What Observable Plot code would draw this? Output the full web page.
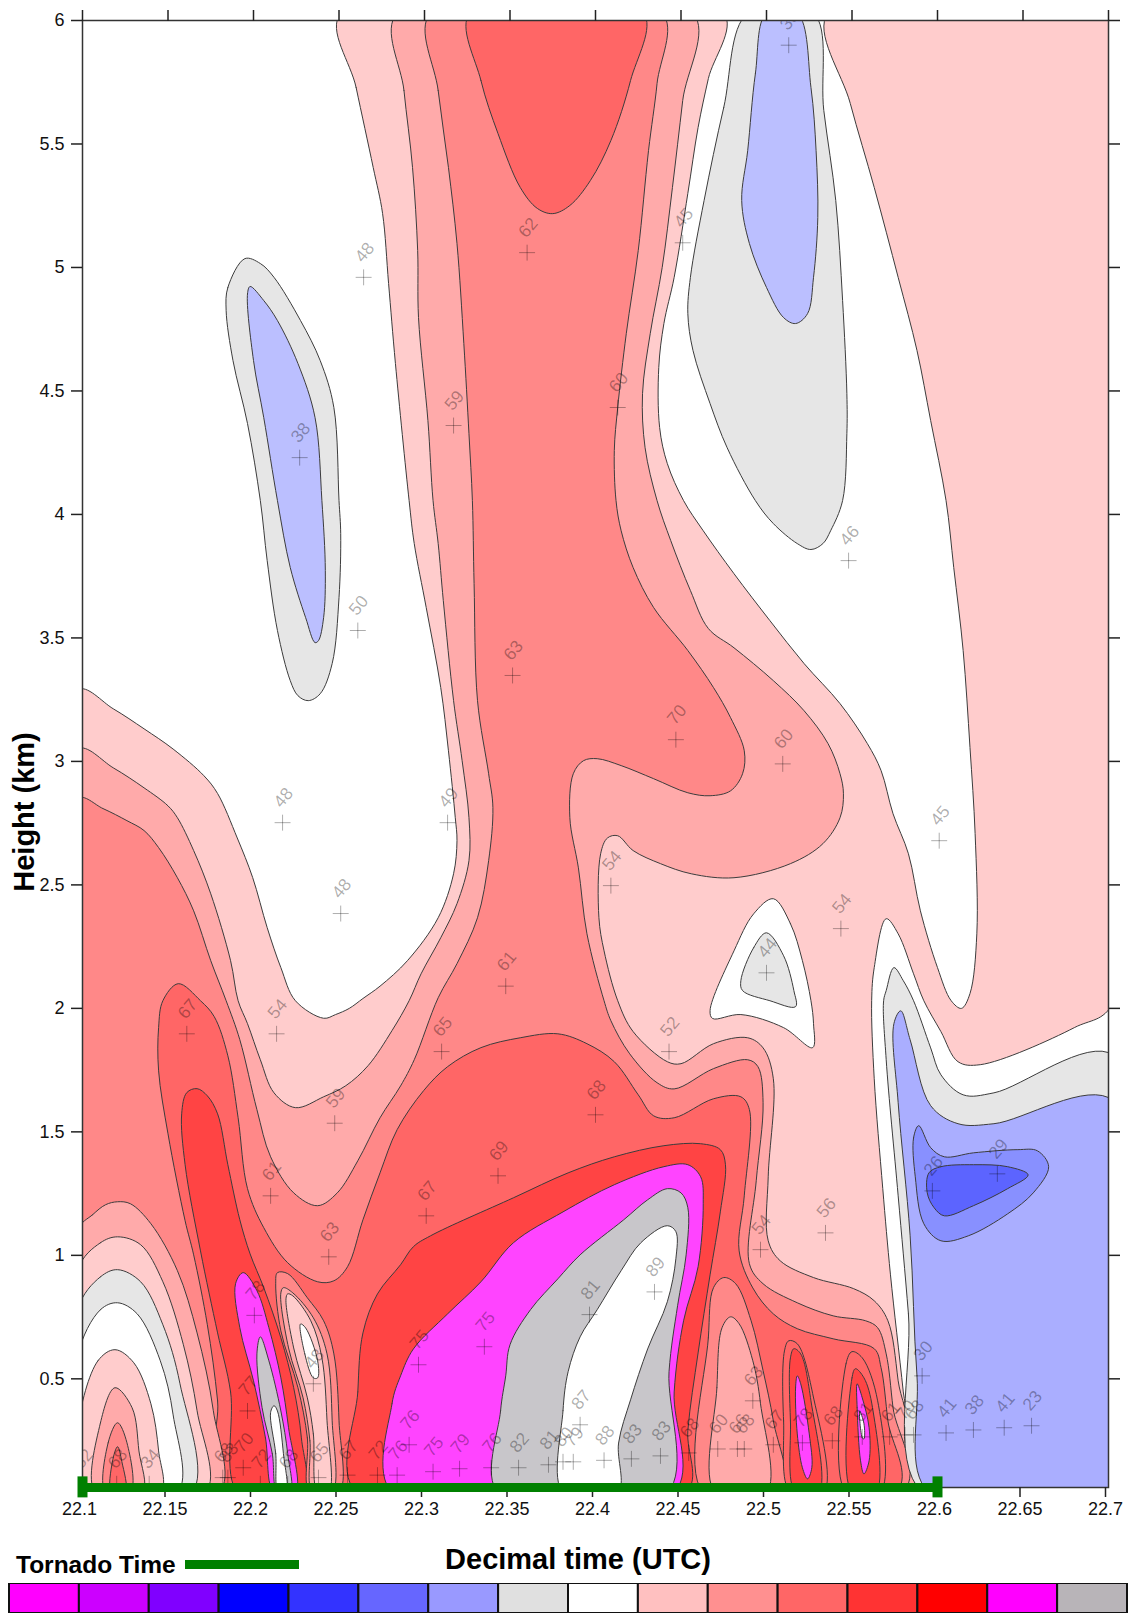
<!DOCTYPE html>
<html><head><meta charset="utf-8">
<script src="https://cdn.jsdelivr.net/npm/d3@7"></script>
<script src="https://cdn.jsdelivr.net/npm/@observablehq/plot@0.6"></script>
<style>
html,body{margin:0;padding:0;background:#fff;width:1132px;height:1613px;overflow:hidden}
#wrap{position:relative;width:1132px;height:1613px;font-family:"Liberation Sans",Arial,sans-serif}
.t{position:absolute;font-weight:bold;color:#000;white-space:nowrap;line-height:1}
#xtitle{left:578px;top:1545px;transform:translateX(-50%);font-size:29px}
#tornado{left:16px;top:1553px;font-size:24.5px}
#swatch{position:absolute;left:185px;top:1560px;width:114px;height:9px;background:#008000}
#bar{position:absolute;left:0;top:1583px}
svg{display:block}
</style></head><body><div id="wrap">
<div id="main"></div>
<div class="t" id="xtitle">Decimal time (UTC)</div>
<div class="t" id="tornado">Tornado Time</div><div id="swatch"></div>
<div id="bar"></div>
</div>
<script>
// Tick values
const timeTicks = [22.1,22.15,22.2,22.25,22.3,22.35,22.4,22.45,22.5,22.55,22.6,22.65,22.7];
const heightTicks = [0.5,1,1.5,2,2.5,3,3.5,4,4.5,5,5.5,6];
const tornadoTime = [22.1,22.6];

// Contour fills
const pink1="#FFCCCC",pink2="#FFAAAA",pink3="#FF8888",red1="#FF6666",red2="#FF4444",magenta="#FF44FF",
      grey="#C8C6CA",white="#FFFFFF",lightGrey="#E6E6E6",lavender="#BBBFFF",blue1="#AAAEFF",blue2="#8890FF",blue3="#5C64FF";

// Colour bar
const barColors = ["#FF00FF","#CC00FF","#8000FF","#0000FF","#3333FF","#6666FF","#9999FF","#E0E0E0","#FFFFFF","#FFC0C0","#FF9090","#FF6666","#FF3333","#FF0000","#FF00FF","#B8B4B8"];

// Contour rings, [decimal time, height km]
const ringPink1 = [[22.251,6.03],[22.26,5.729],[22.27,5.405],[22.2755,5.218],[22.279,4.935],[22.283,4.611],[22.291,4.056],[22.294,3.882],[22.301,3.623],[22.3095,3.299],[22.314,3.043],[22.318,2.772],[22.319,2.679],[22.317,2.545],[22.308,2.367],[22.29,2.193],[22.274,2.09],[22.264,2.04],[22.256,2.0],[22.248,1.975],[22.241,1.96],[22.2245,2.031],[22.216,2.165],[22.208,2.327],[22.1995,2.53],[22.1905,2.69],[22.179,2.87],[22.171,2.942],[22.153,3.05],[22.136,3.132],[22.118,3.213],[22.097,3.29],[22.097,0.04],[22.586,0.04],[22.58,0.447],[22.5725,0.921],[22.568,1.27],[22.563,1.715],[22.5615,2.031],[22.563,2.165],[22.57,2.363],[22.577,2.302],[22.586,2.14],[22.592,2.031],[22.602,1.906],[22.612,1.784],[22.625,1.772],[22.68,1.922],[22.703,2.025],[22.703,6.03],[22.536,6.03],[22.549,5.664],[22.563,5.324],[22.577,4.96],[22.588,4.664],[22.596,4.38],[22.605,4.056],[22.6095,3.785],[22.615,3.449],[22.619,3.056],[22.622,2.708],[22.623,2.302],[22.619,2.06],[22.614,2.0],[22.608,2.031],[22.6,2.165],[22.59,2.395],[22.583,2.626],[22.574,2.788],[22.567,2.963],[22.559,3.072],[22.543,3.234],[22.522,3.396],[22.502,3.57],[22.481,3.76],[22.463,3.934],[22.4515,4.056],[22.442,4.206],[22.4375,4.352],[22.437,4.595],[22.44,4.773],[22.446,4.96],[22.454,5.3],[22.46,5.567],[22.466,5.765],[22.475,6.03]];
const ringPink2 = [[22.284,6.03],[22.288,5.716],[22.293,5.405],[22.296,5.069],[22.2965,4.797],[22.302,4.38],[22.305,4.056],[22.308,3.882],[22.311,3.651],[22.317,3.246],[22.322,3.003],[22.326,2.772],[22.326,2.598],[22.319,2.424],[22.3095,2.286],[22.298,2.14],[22.291,2.031],[22.281,1.91],[22.267,1.768],[22.254,1.687],[22.241,1.642],[22.2245,1.598],[22.212,1.658],[22.204,1.792],[22.1965,1.938],[22.191,2.031],[22.1866,2.193],[22.175,2.464],[22.165,2.639],[22.1555,2.772],[22.15,2.82],[22.136,2.893],[22.118,2.974],[22.097,3.05],[22.097,0.04],[22.583,0.04],[22.577,0.492],[22.571,0.735],[22.563,0.816],[22.551,0.865],[22.5275,0.91],[22.508,0.978],[22.501,1.059],[22.501,1.318],[22.504,1.715],[22.498,1.84],[22.489,1.881],[22.469,1.857],[22.45,1.776],[22.442,1.784],[22.422,1.906],[22.413,2.031],[22.405,2.233],[22.402,2.367],[22.403,2.626],[22.407,2.69],[22.413,2.699],[22.422,2.639],[22.438,2.586],[22.456,2.545],[22.481,2.529],[22.514,2.586],[22.533,2.667],[22.543,2.772],[22.545,2.869],[22.543,2.95],[22.536,3.072],[22.522,3.205],[22.504,3.327],[22.481,3.46],[22.466,3.538],[22.4555,3.692],[22.444,3.894],[22.436,4.056],[22.429,4.27],[22.4275,4.489],[22.432,4.732],[22.439,5.0],[22.445,5.324],[22.451,5.676],[22.457,6.03]];
const ringPink3 = [[22.3035,6.03],[22.308,5.716],[22.314,5.405],[22.319,5.097],[22.323,4.692],[22.326,4.327],[22.328,4.056],[22.329,3.72],[22.331,3.246],[22.3375,2.95],[22.34,2.813],[22.3375,2.598],[22.331,2.367],[22.319,2.181],[22.308,2.043],[22.294,1.792],[22.286,1.686],[22.274,1.557],[22.261,1.383],[22.249,1.253],[22.2375,1.201],[22.2235,1.253],[22.21,1.399],[22.202,1.59],[22.192,1.873],[22.184,2.031],[22.175,2.193],[22.165,2.395],[22.1555,2.529],[22.1445,2.651],[22.136,2.72],[22.126,2.76],[22.112,2.809],[22.097,2.85],[22.097,0.04],[22.58,0.04],[22.574,0.383],[22.57,0.601],[22.565,0.707],[22.558,0.735],[22.539,0.755],[22.518,0.808],[22.498,0.885],[22.49,0.966],[22.494,1.302],[22.498,1.618],[22.495,1.764],[22.489,1.792],[22.469,1.756],[22.446,1.674],[22.436,1.699],[22.42,1.816],[22.409,1.95],[22.405,2.031],[22.395,2.302],[22.39,2.569],[22.385,2.772],[22.387,2.95],[22.393,3.003],[22.401,3.011],[22.415,2.983],[22.434,2.93],[22.454,2.873],[22.467,2.861],[22.479,2.881],[22.486,2.95],[22.487,3.043],[22.479,3.177],[22.469,3.299],[22.454,3.449],[22.434,3.623],[22.422,3.785],[22.415,3.934],[22.412,4.056],[22.411,4.259],[22.413,4.433],[22.418,4.732],[22.425,5.069],[22.431,5.473],[22.436,5.745],[22.439,6.03]];
const ringTopRed = [[22.3265,6.03],[22.333,5.757],[22.343,5.542],[22.356,5.324],[22.366,5.239],[22.375,5.218],[22.385,5.251],[22.397,5.352],[22.409,5.514],[22.4205,5.757],[22.428,6.03]];
const ringRed1 = [[22.1825,0.04],[22.179,0.411],[22.173,0.719],[22.165,1.002],[22.16,1.14],[22.15,1.492],[22.1445,1.747],[22.1445,1.922],[22.147,2.031],[22.156,2.1],[22.169,2.031],[22.177,1.967],[22.185,1.808],[22.191,1.557],[22.1965,1.27],[22.206,1.112],[22.22,0.97],[22.2375,0.893],[22.247,0.897],[22.255,0.954],[22.264,1.144],[22.274,1.334],[22.284,1.509],[22.2995,1.667],[22.3135,1.764],[22.333,1.841],[22.356,1.881],[22.378,1.897],[22.395,1.857],[22.411,1.784],[22.425,1.65],[22.434,1.565],[22.446,1.557],[22.469,1.634],[22.485,1.642],[22.49,1.59],[22.487,1.241],[22.484,1.018],[22.492,0.868],[22.504,0.763],[22.518,0.703],[22.539,0.662],[22.563,0.622],[22.567,0.545],[22.571,0.33],[22.576,0.04]];
const hillPink2 = [[22.097,1.1],[22.106,1.165],[22.1135,1.205],[22.1205,1.217],[22.128,1.209],[22.14,1.128],[22.1555,0.938],[22.167,0.686],[22.1765,0.371],[22.18,0.04],[22.097,0.04]];
const hillPink1 = [[22.097,0.94],[22.1105,1.051],[22.1205,1.075],[22.134,1.043],[22.147,0.893],[22.159,0.638],[22.167,0.371],[22.172,0.04],[22.097,0.04]];
const hillGrey = [[22.097,0.78],[22.1105,0.913],[22.1205,0.942],[22.134,0.893],[22.147,0.719],[22.157,0.48],[22.164,0.04],[22.097,0.04]];
const hillWhite = [[22.097,0.59],[22.1105,0.78],[22.1205,0.808],[22.132,0.763],[22.1455,0.573],[22.153,0.354],[22.1555,0.04],[22.097,0.04]];
const hillInner1 = [[22.097,0.3],[22.109,0.573],[22.119,0.618],[22.13,0.565],[22.14,0.399],[22.1445,0.208],[22.1455,0.04],[22.097,0.04]];
const hillInner2 = [[22.1075,0.04],[22.1105,0.322],[22.119,0.464],[22.129,0.383],[22.133,0.208],[22.135,0.04]];
const hillInner3 = [[22.1135,0.04],[22.115,0.241],[22.1205,0.322],[22.126,0.241],[22.128,0.04]];
const hillInner4 = [[22.117,0.04],[22.1175,0.165],[22.1205,0.225],[22.123,0.165],[22.125,0.04]];
const ringRed2Left = [[22.191,0.04],[22.1866,0.447],[22.179,0.686],[22.169,1.018],[22.16,1.367],[22.158,1.573],[22.161,1.659],[22.167,1.675],[22.173,1.646],[22.179,1.573],[22.185,1.367],[22.192,1.144],[22.198,1.006],[22.206,0.869],[22.216,0.666],[22.2235,0.464],[22.228,0.261],[22.229,0.04]];
const ringMagentaLeft = [[22.212,0.04],[22.207,0.261],[22.2,0.492],[22.192,0.707],[22.1895,0.885],[22.194,0.93],[22.202,0.857],[22.209,0.707],[22.216,0.504],[22.2205,0.302],[22.2245,0.04]];
const ringGreyLeft = [[22.214,0.04],[22.211,0.197],[22.205,0.384],[22.202,0.601],[22.204,0.67],[22.209,0.573],[22.216,0.37],[22.22,0.197],[22.2215,0.04]];
const ringWhiteLeft = [[22.2145,0.04],[22.213,0.197],[22.21,0.364],[22.212,0.391],[22.214,0.37],[22.2175,0.197],[22.219,0.04]];
const humpOuter = [[22.233,0.04],[22.2315,0.261],[22.226,0.464],[22.216,0.694],[22.213,0.885],[22.214,0.93],[22.22,0.926],[22.2315,0.828],[22.241,0.735],[22.247,0.601],[22.25,0.33],[22.25,0.04]];
const humpMiddle = [[22.2345,0.04],[22.233,0.249],[22.229,0.423],[22.2205,0.625],[22.216,0.848],[22.2175,0.869],[22.223,0.848],[22.235,0.747],[22.243,0.601],[22.246,0.33],[22.246,0.04]];
const humpInner = [[22.2375,0.04],[22.235,0.277],[22.2315,0.423],[22.2235,0.625],[22.219,0.824],[22.22,0.844],[22.223,0.836],[22.2335,0.735],[22.24,0.585],[22.243,0.33],[22.244,0.04]];
const humpWhite = [[22.2275,0.722],[22.23,0.601],[22.235,0.504],[22.2375,0.504],[22.2375,0.573],[22.2305,0.706]];
const ringRed2Main = [[22.26,0.04],[22.261,0.447],[22.264,0.686],[22.2725,0.844],[22.286,0.962],[22.2935,1.035],[22.3035,1.079],[22.352,1.233],[22.384,1.334],[22.411,1.399],[22.44,1.444],[22.4615,1.452],[22.473,1.428],[22.476,1.367],[22.473,1.176],[22.467,0.921],[22.46,0.605],[22.454,0.29],[22.453,0.04]];
const ringMagentaMain = [[22.281,0.04],[22.281,0.399],[22.286,0.512],[22.2935,0.621],[22.3135,0.763],[22.333,0.893],[22.352,1.051],[22.381,1.176],[22.411,1.286],[22.44,1.359],[22.454,1.367],[22.4615,1.318],[22.463,1.209],[22.46,0.954],[22.4515,0.735],[22.446,0.447],[22.446,0.04]];
const ringGreyMain = [[22.343,0.04],[22.3445,0.371],[22.3475,0.512],[22.35,0.638],[22.362,0.78],[22.378,0.905],[22.391,1.002],[22.4165,1.144],[22.4305,1.225],[22.442,1.27],[22.45,1.253],[22.454,1.193],[22.453,1.002],[22.448,0.796],[22.443,0.529],[22.442,0.04]];
const ringWhiteMain = [[22.381,0.04],[22.381,0.371],[22.384,0.529],[22.391,0.67],[22.401,0.78],[22.415,0.938],[22.4265,1.051],[22.442,1.12],[22.447,1.096],[22.447,0.986],[22.442,0.812],[22.4305,0.621],[22.4205,0.415],[22.4135,0.24],[22.413,0.04]];
const rightHumpOuter = [[22.463,0.04],[22.466,0.666],[22.469,0.869],[22.475,0.91],[22.482,0.885],[22.491,0.735],[22.498,0.533],[22.504,0.33],[22.5095,0.04]];
const rightHumpInner = [[22.47,0.04],[22.471,0.464],[22.474,0.707],[22.479,0.751],[22.484,0.723],[22.492,0.573],[22.4965,0.399],[22.5,0.04]];
const tower1Outer = [[22.514,0.04],[22.51,0.33],[22.5105,0.613],[22.513,0.654],[22.518,0.642],[22.527,0.44],[22.5335,0.04]];
const tower1Inner = [[22.517,0.04],[22.514,0.33],[22.514,0.585],[22.516,0.622],[22.52,0.601],[22.526,0.411],[22.5305,0.04]];
const tower1Core = [[22.518,0.512],[22.517,0.464],[22.518,0.277],[22.521,0.14],[22.524,0.095],[22.5265,0.14],[22.525,0.277],[22.52,0.48]];
const tower2Outer = [[22.5465,0.04],[22.5465,0.561],[22.55,0.61],[22.556,0.585],[22.565,0.411],[22.5665,0.04]];
const tower2Inner = [[22.55,0.04],[22.55,0.504],[22.552,0.541],[22.557,0.504],[22.562,0.383],[22.564,0.04]];
const tower2Core = [[22.553,0.48],[22.553,0.383],[22.555,0.168],[22.557,0.115],[22.56,0.168],[22.56,0.302],[22.556,0.423]];
const tower2White = [[22.5545,0.37],[22.556,0.261],[22.557,0.257],[22.557,0.318]];
const triWhite = [[22.504,2.444],[22.514,2.343],[22.521,2.193],[22.526,2.031],[22.5275,1.938],[22.527,1.841],[22.51,1.922],[22.485,1.975],[22.4685,1.959],[22.467,1.991],[22.481,2.233],[22.4925,2.383]];
const triGrey = [[22.5,2.306],[22.4925,2.246],[22.485,2.112],[22.486,2.072],[22.502,2.031],[22.517,2.007],[22.516,2.072],[22.51,2.213]];
const ringGreyRight = [[22.591,0.04],[22.583,0.763],[22.577,1.241],[22.57,1.792],[22.5685,2.031],[22.57,2.072],[22.5745,2.165],[22.58,2.112],[22.586,2.031],[22.596,1.84],[22.602,1.731],[22.615,1.65],[22.633,1.658],[22.703,1.81],[22.703,0.04]];
const ringBlue1 = [[22.595,0.04],[22.588,0.512],[22.584,1.079],[22.577,1.618],[22.5745,1.938],[22.5785,1.99],[22.584,1.873],[22.596,1.606],[22.612,1.533],[22.633,1.533],[22.703,1.626],[22.703,0.04]];
const ringBlue2 = [[22.589,1.525],[22.586,1.476],[22.587,1.318],[22.592,1.128],[22.602,1.059],[22.618,1.079],[22.641,1.168],[22.656,1.253],[22.665,1.359],[22.6585,1.423],[22.647,1.428],[22.621,1.415],[22.604,1.399],[22.596,1.436]];
const ringBlue3 = [[22.595,1.334],[22.602,1.359],[22.621,1.367],[22.641,1.359],[22.653,1.326],[22.641,1.27],[22.621,1.201],[22.604,1.16],[22.598,1.193],[22.594,1.253]];
const pocketGreyLeft = [[22.195,5.036],[22.185,4.919],[22.184,4.826],[22.188,4.623],[22.1965,4.368],[22.204,4.056],[22.208,3.813],[22.214,3.53],[22.2215,3.327],[22.226,3.266],[22.232,3.246],[22.239,3.274],[22.246,3.396],[22.25,3.663],[22.251,3.922],[22.25,4.056],[22.247,4.433],[22.239,4.623],[22.2275,4.785],[22.212,4.96],[22.204,5.016]];
const pocketLavLeft = [[22.198,4.923],[22.1965,4.894],[22.2,4.623],[22.206,4.392],[22.214,4.056],[22.2215,3.785],[22.2305,3.582],[22.236,3.481],[22.238,3.489],[22.241,3.582],[22.242,3.773],[22.24,4.056],[22.236,4.392],[22.226,4.611],[22.214,4.785],[22.206,4.866]];
const pocketGreyTop = [[22.489,6.03],[22.475,5.648],[22.4635,5.271],[22.4555,4.96],[22.454,4.813],[22.457,4.664],[22.467,4.449],[22.477,4.27],[22.4935,4.056],[22.504,3.963],[22.518,3.882],[22.526,3.858],[22.533,3.882],[22.5375,3.934],[22.5445,4.056],[22.547,4.327],[22.547,4.489],[22.5445,4.866],[22.5405,5.271],[22.5335,5.636],[22.5275,6.03]];
const pocketLavTop = [[22.5,6.03],[22.4935,5.785],[22.489,5.473],[22.4855,5.271],[22.49,5.097],[22.5,4.919],[22.51,4.797],[22.517,4.773],[22.524,4.813],[22.5275,4.96],[22.53,5.202],[22.529,5.473],[22.526,5.729],[22.518,6.03]];

const layers = [
 [ringPink1,pink1],[ringPink2,pink2],[ringPink3,pink3],[ringTopRed,red1],[ringRed1,red1],
 [hillPink2,pink2],[hillPink1,pink1],[hillGrey,lightGrey],[hillWhite,white],[hillInner1,pink1],[hillInner2,pink2],[hillInner3,pink3],[hillInner4,red1],
 [ringRed2Left,red2],[ringMagentaLeft,magenta],[ringGreyLeft,grey],[ringWhiteLeft,white],
 [humpOuter,pink3],[humpMiddle,pink2],[humpInner,pink1],[humpWhite,white],
 [ringRed2Main,red2],[ringMagentaMain,magenta],[ringGreyMain,grey],[ringWhiteMain,white],
 [rightHumpOuter,pink3],[rightHumpInner,pink2],
 [tower1Outer,red1],[tower1Inner,red2],[tower1Core,magenta],
 [tower2Outer,red1],[tower2Inner,red2],[tower2Core,magenta],[tower2White,white],
 [triWhite,white],[triGrey,lightGrey],
 [ringGreyRight,lightGrey],[ringBlue1,blue1],[ringBlue2,blue2],[ringBlue3,blue3],
 [pocketGreyLeft,lightGrey],[pocketLavLeft,lavender],[pocketGreyTop,lightGrey],[pocketLavTop,lavender]
];

// Observations
const obsTime = [22.2644,22.317,22.36,22.413,22.451,22.513,22.548,22.227,22.261,22.217,22.3135,22.251,22.3515,22.447,22.5095,22.409,22.5,22.3475,22.601,22.5435,22.161,22.2135,22.2475,22.21,22.244,22.31,22.443,22.4,22.343,22.301,22.4965,22.5345,22.597,22.635,22.591,22.605,22.621,22.639,22.655,22.335,22.2965,22.3965,22.4345,22.291,22.305,22.3205,22.339,22.355,22.3725,22.381,22.387,22.391,22.405,22.421,22.438,22.4545,22.4715,22.483,22.487,22.492,22.504,22.521,22.5385,22.556,22.572,22.581,22.586,22.1965,22.2005,22.204,22.194,22.182,22.185,22.139,22.12,22.1,22.22,22.238,22.255,22.2725,22.284,22.235];
const obsHeight = [4.96,4.36,5.06,4.433,5.1,5.9,3.813,4.23,3.53,2.752,2.752,2.384,3.348,3.088,2.99,2.497,2.144,2.09,2.679,2.323,1.897,1.897,1.535,1.241,0.994,1.825,1.825,1.569,1.322,1.16,1.023,1.091,1.261,1.33,0.512,0.281,0.293,0.302,0.31,0.63,0.557,0.76,0.852,0.233,0.124,0.136,0.14,0.14,0.152,0.164,0.164,0.314,0.17,0.176,0.188,0.2,0.216,0.216,0.216,0.411,0.233,0.241,0.249,0.265,0.265,0.273,0.273,0.37,0.757,0.075,0.14,0.1,0.1,0.075,0.075,0.075,0.075,0.1,0.11,0.11,0.11,0.48];
const obsValue = [48,59,62,60,45,35,46,38,50,48,49,48,63,70,60,54,44,61,45,54,67,54,59,61,63,65,52,68,69,67,54,56,26,29,30,41,38,41,23,75,75,81,89,76,75,79,76,82,81,80,79,87,88,83,83,68,60,66,68,63,67,78,68,81,61,70,68,77,78,72,70,68,83,34,68,52,68,65,67,72,76,48];
const observations = obsTime.map((t,i)=>({t,h:obsHeight[i],v:String(obsValue[i])}));

const ink = "#000";
const fmtTick = d => String(+(+d).toFixed(2));
const noLabel = () => "";

const main = Plot.plot({
  width:1132, height:1545,
  marginLeft:82, marginRight:24, marginTop:20, marginBottom:58,
  style:{background:"#fff",fontFamily:'"Liberation Sans",Arial,sans-serif'},
  x:{domain:[22.1,22.7],axis:null},
  y:{domain:[0.06,6],axis:null},
  marks:[
    ...layers.map(([ring,color])=>Plot.line(ring,{x:d=>d[0],y:d=>d[1],fill:color,stroke:"#3c3c3c",strokeWidth:1,curve:"catmull-rom-closed",clip:"frame"})),
    Plot.dot(observations,{x:"t",y:"h",symbol:"plus",r:5.2,stroke:ink,strokeWidth:1,strokeOpacity:0.32,clip:"frame"}),
    Plot.text(observations,{x:"t",y:"h",text:"v",dy:-25,dx:1,rotate:-50,fontSize:17.5,fill:ink,fillOpacity:0.32,clip:"frame"}),
    Plot.frame({stroke:"#333",strokeWidth:1.5}),
    Plot.axisX(timeTicks,{anchor:"bottom",tickSize:10,tickPadding:5,tickFormat:fmtTick,fontSize:18,dx:-3,label:null,stroke:"#222",strokeWidth:1.5,fill:"#111"}),
    Plot.axisX(timeTicks,{anchor:"top",tickSize:11,tickFormat:noLabel,label:null,stroke:"#222",strokeWidth:1.5}),
    Plot.axisY(heightTicks,{anchor:"left",tickSize:11,tickPadding:7,tickFormat:fmtTick,fontSize:18,label:null,stroke:"#222",strokeWidth:1.5,fill:"#111"}),
    Plot.axisY(heightTicks,{anchor:"right",tickSize:11,tickFormat:noLabel,label:null,stroke:"#222",strokeWidth:1.5}),
    Plot.line(tornadoTime.map(t=>({t,h:0.06})),{x:"t",y:"h",stroke:"#008000",strokeWidth:9,strokeLinecap:"butt"}),
    ...tornadoTime.map(t=>Plot.line([{t,h:0.02},{t,h:0.105}],{x:"t",y:"h",stroke:"#008000",strokeWidth:10,strokeLinecap:"butt"})),
    Plot.text(["Height (km)"],{frameAnchor:"left",textAnchor:"middle",dx:-58,dy:58,rotate:-90,fontSize:29,fontWeight:"bold",fill:"#000",text:d=>d})
  ]
});
document.getElementById("main").append(main);

const bar = Plot.plot({
  width:1132, height:30, marginLeft:9, marginRight:5, marginTop:0, marginBottom:0,
  style:{background:"#fff"},
  x:{domain:d3.range(barColors.length),axis:null,padding:0,round:false},
  y:{axis:null},
  color:{type:"identity"},
  marks:[
    Plot.cell(barColors,{x:(d,i)=>i,fill:d=>d,stroke:"#111",strokeWidth:2})
  ]
});
document.getElementById("bar").append(bar);
</script></body></html>
